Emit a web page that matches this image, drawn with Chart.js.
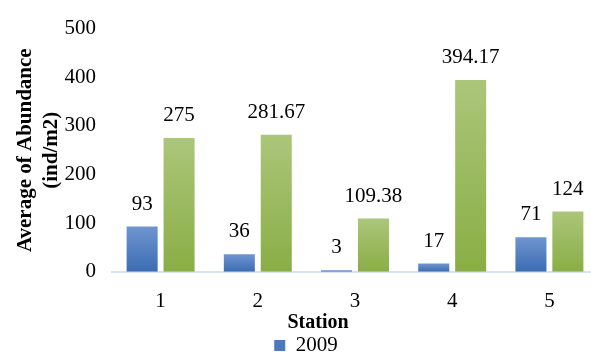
<!DOCTYPE html>
<html lang="en">
<head>
    <meta charset="UTF-8">
    <title>Average of Abundance by Station</title>
    <script src="https://cdn.jsdelivr.net/npm/chart.js"></script>
    <style>
        html, body { margin: 0; padding: 0; overflow: hidden; background: #fff; }
        #wrap { width: 598px; height: 366px; }
    </style>
</head>
<body>
    <div id="wrap"><canvas id="abundanceChart"></canvas></div>

    <script>
        // data
        const stations = ['1', '2', '3', '4', '5'];
        const values2009 = [93, 36, 3, 17, 71];
        const values2010 = [275, 281.67, 109.38, 394.17, 124];
        const labels2009 = ['93', '36', '3', '17', '71'];
        const labels2010 = ['275', '281.67', '109.38', '394.17', '124'];

        const serif = "'Liberation Serif', 'Times New Roman', serif";

        // vertical gradient per bar, light at the top of each bar
        function gradient(top, bottom) {
            return function (ctx) {
                const y = ctx.chart.scales && ctx.chart.scales.y;
                if (!y || ctx.raw === undefined || !isFinite(y.getPixelForValue(0))) return bottom;
                const y0 = y.getPixelForValue(ctx.raw);
                const y1 = y.getPixelForValue(0);
                if (!(y1 - y0 > 0)) return bottom;
                const g = ctx.chart.ctx.createLinearGradient(0, y0, 0, y1);
                g.addColorStop(0, top);
                g.addColorStop(1, bottom);
                return g;
            };
        }

        // value labels above each bar
        const valueLabels = {
            id: 'valueLabels',
            afterDatasetsDraw(chart) {
                const c = chart.ctx;
                c.save();
                c.font = '21px ' + serif;
                c.fillStyle = '#000';
                c.textAlign = 'center';
                c.textBaseline = 'bottom';
                chart.data.datasets.forEach((ds, i) => {
                    chart.getDatasetMeta(i).data.forEach((bar, j) => {
                        c.fillText(ds.valueText[j], bar.x, bar.y - 12);
                    });
                });
                c.restore();
            }
        };

        // the source centres the x title and legend off the plot centre
        const nudge = {
            id: 'nudge',
            afterLayout(chart) {
                const s = chart.scales.x;
                if (!s._nudged) {
                    const orig = s.drawTitle.bind(s);
                    s.drawTitle = function () {
                        const l = s.left;
                        s.left = l - 74;
                        orig();
                        s.left = l;
                    };
                    s._nudged = true;
                }
                chart.legend.left += 7;
                chart.legend.right += 7;
            }
        };

        new Chart(document.getElementById('abundanceChart'), {
            type: 'bar',
            data: {
                labels: stations,
                datasets: [{
                    label: '2009',
                    data: values2009,
                    valueText: labels2009,
                    backgroundColor: gradient('#6f95cf', '#3b6cb3'),
                    categoryPercentage: 0.76,
                    barPercentage: 0.84
                }, {
                    label: '2010',
                    data: values2010,
                    valueText: labels2010,
                    backgroundColor: gradient('#abc67a', '#8aae45'),
                    categoryPercentage: 0.76,
                    barPercentage: 0.84
                }]
            },
            options: {
                responsive: true,
                maintainAspectRatio: false,
                animation: false,
                layout: { padding: { top: 19, left: 0, right: 0, bottom: 0 } },
                plugins: {
                    tooltip: { enabled: false },
                    legend: {
                        position: 'bottom',
                        labels: {
                            font: { family: serif, size: 21 },
                            color: '#000',
                            boxWidth: 11,
                            boxHeight: 11,
                            padding: 0,
                            generateLabels(chart) {
                                const items = Chart.defaults.plugins.legend.labels.generateLabels(chart);
                                items.forEach(it => { it.fillStyle = it.datasetIndex === 0 ? '#4a79bd' : '#98b95c'; });
                                return items;
                            },
                            filter: item => item.datasetIndex === 0
                        }
                    }
                },
                scales: {
                    x: {
                        grid: { display: false, drawTicks: false },
                        border: { color: '#d6e1f1', width: 2 },
                        ticks: { font: { family: serif, size: 21 }, color: '#000', padding: 17 },
                        title: {
                            display: true,
                            text: 'Station',
                            font: { family: serif, size: 20, weight: 'bold' },
                            color: '#000',
                            padding: { top: -20, bottom: 0 }
                        }
                    },
                    y: {
                        min: 0,
                        max: 500,
                        grid: { display: false, drawTicks: false },
                        border: { display: false },
                        ticks: { stepSize: 100, font: { family: serif, size: 21 }, color: '#000', padding: 16 },
                        title: {
                            display: true,
                            text: ['Average of Abundance', '(ind/m2)'],
                            font: { family: serif, size: 21, weight: 'bold', lineHeight: 1.25 },
                            color: '#000',
                            padding: { top: 12, bottom: 0 }
                        },
                        afterFit(scale) { scale.width = 112; }
                    }
                }
            },
            plugins: [valueLabels, nudge]
        });
    </script>
</body>
</html>
